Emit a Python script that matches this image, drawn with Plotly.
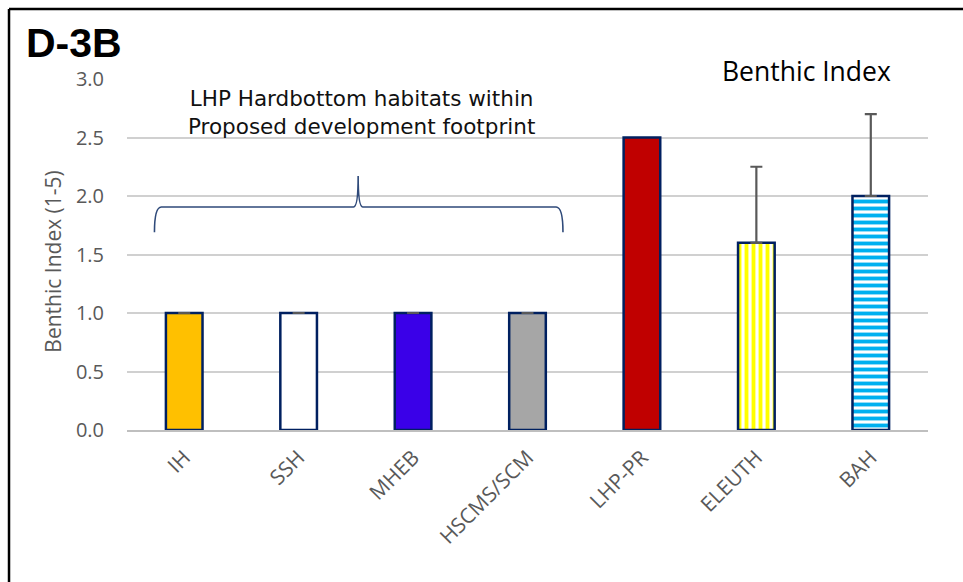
import plotly.graph_objects as go

categories = ["IH", "SSH", "MHEB", "HSCMS/SCM", "LHP-PR", "ELEUTH", "BAH"]
values = [1.0, 1.0, 1.0, 1.0, 2.5, 1.6, 2.0]
err_plus = [0, 0, 0, 0, None, 0.65, 0.7]
err_minus = [0, 0, 0, 0, None, None, None]
fill_colors = ["#ffc000", "#ffffff", "#3a00e8", "#a6a6a6", "#c00000", "#ffffff", "#ffffff"]
pattern_shapes = ["", "", "", "", "", "|", "-"]
pattern_fg = ["#ffc000", "#ffffff", "#3a00e8", "#a6a6a6", "#c00000", "#ffff00", "#00b0f0"]
y_ticks = [0, 0.5, 1.0, 1.5, 2.0, 2.5, 3.0]
y_tick_labels = ["0.0", "0.5", "1.0", "1.5", "2.0", "2.5", "3.0"]
note_text = "LHP Hardbottom habitats within<br>Proposed development footprint"

FONT = "Open Sans"
GREY = "#595959"

fig = go.Figure()
for i, cat in enumerate(categories):
    marker = dict(color=fill_colors[i], line=dict(color="#002060", width=2.5))
    if pattern_shapes[i]:
        marker["pattern"] = dict(shape=pattern_shapes[i], fgcolor=pattern_fg[i],
                                 bgcolor="#ffffff", size=7, solidity=0.55,
                                 fgopacity=1, fillmode="overlay")
    ep = err_plus[i]
    em = err_minus[i]
    err = dict(visible=False)
    if ep is not None:
        err = dict(type="data", array=[ep], symmetric=False,
                   arrayminus=[em] if em is not None else [None],
                   color=GREY, thickness=2.2, width=6)
    fig.add_trace(go.Bar(
        x=[cat], y=[values[i]], width=0.32, marker=marker,
        error_y=err, showlegend=False,
    ))

# brace over the first four categories
brace = ("M -0.26,1.69 Q -0.26,1.906 -0.2,1.906 L 1.48,1.906 "
         "Q 1.52,1.906 1.52,2.17 Q 1.52,1.906 1.56,1.906 "
         "L 3.25,1.906 Q 3.31,1.906 3.31,1.69")
shapes = [
    dict(type="path", xref="x", yref="y", path=brace,
         line=dict(color="#2f4a7a", width=1.6)),
    dict(type="line", xref="paper", yref="paper", x0=-0.1473, x1=1.1,
         y0=1.1994, y1=1.1994, line=dict(color="#000000", width=2.5)),
    dict(type="line", xref="paper", yref="paper", x0=-0.1473, x1=-0.1473,
         y0=1.1994, y1=-0.6, line=dict(color="#000000", width=2.5)),
]

annotations = [
    dict(text="<b>D-3B</b>", xref="paper", yref="paper", x=-0.129, y=1.103,
         xanchor="left", yanchor="middle", showarrow=False,
         font=dict(family="Liberation Sans", size=41, color="#000000")),
    dict(text="Benthic Index", xref="paper", yref="paper", x=0.848, y=1.024,
         xanchor="center", yanchor="middle", showarrow=False,
         font=dict(family=FONT, size=26.5, color="#000000")),
    dict(text=note_text, xref="paper", yref="paper", x=0.293, y=0.905,
         xanchor="center", yanchor="middle", showarrow=False,
         font=dict(family="DejaVu Sans", size=21.5, color="#111111")),
    dict(text="Benthic Index (1-5)", xref="paper", yref="paper", x=-0.0935, y=0.48,
         xanchor="center", yanchor="middle", showarrow=False, textangle=-90,
         font=dict(family=FONT, size=21, color=GREY)),
]

fig.update_layout(
    width=963, height=582,
    margin=dict(l=127, r=35, t=79, b=152),
    paper_bgcolor="white", plot_bgcolor="white",
    font=dict(family=FONT, color=GREY),
    shapes=shapes,
    annotations=annotations,
    barmode="overlay",
)
fig.update_xaxes(
    type="category", categoryorder="array", categoryarray=categories,
    tickangle=-45,
    tickfont=dict(family=FONT, size=21, color=GREY),
    ticks="outside", ticklen=5, tickcolor="rgba(0,0,0,0)",
    showgrid=False, showline=True, linecolor="#bfbfbf", linewidth=2,
    range=[-0.5, 6.5],
)
fig.update_yaxes(
    range=[0, 3.0],
    tickvals=y_ticks, ticktext=y_tick_labels,
    tickfont=dict(family=FONT, size=20, color=GREY),
    ticks="outside", ticklen=18, tickcolor="rgba(0,0,0,0)",
    showgrid=True, gridcolor="#d0d0d0", gridwidth=2,
    zeroline=False, showline=False,
)

fig.write_html("out.html", config={"displayModeBar": False},
               post_script="document.body.style.margin='0';")
